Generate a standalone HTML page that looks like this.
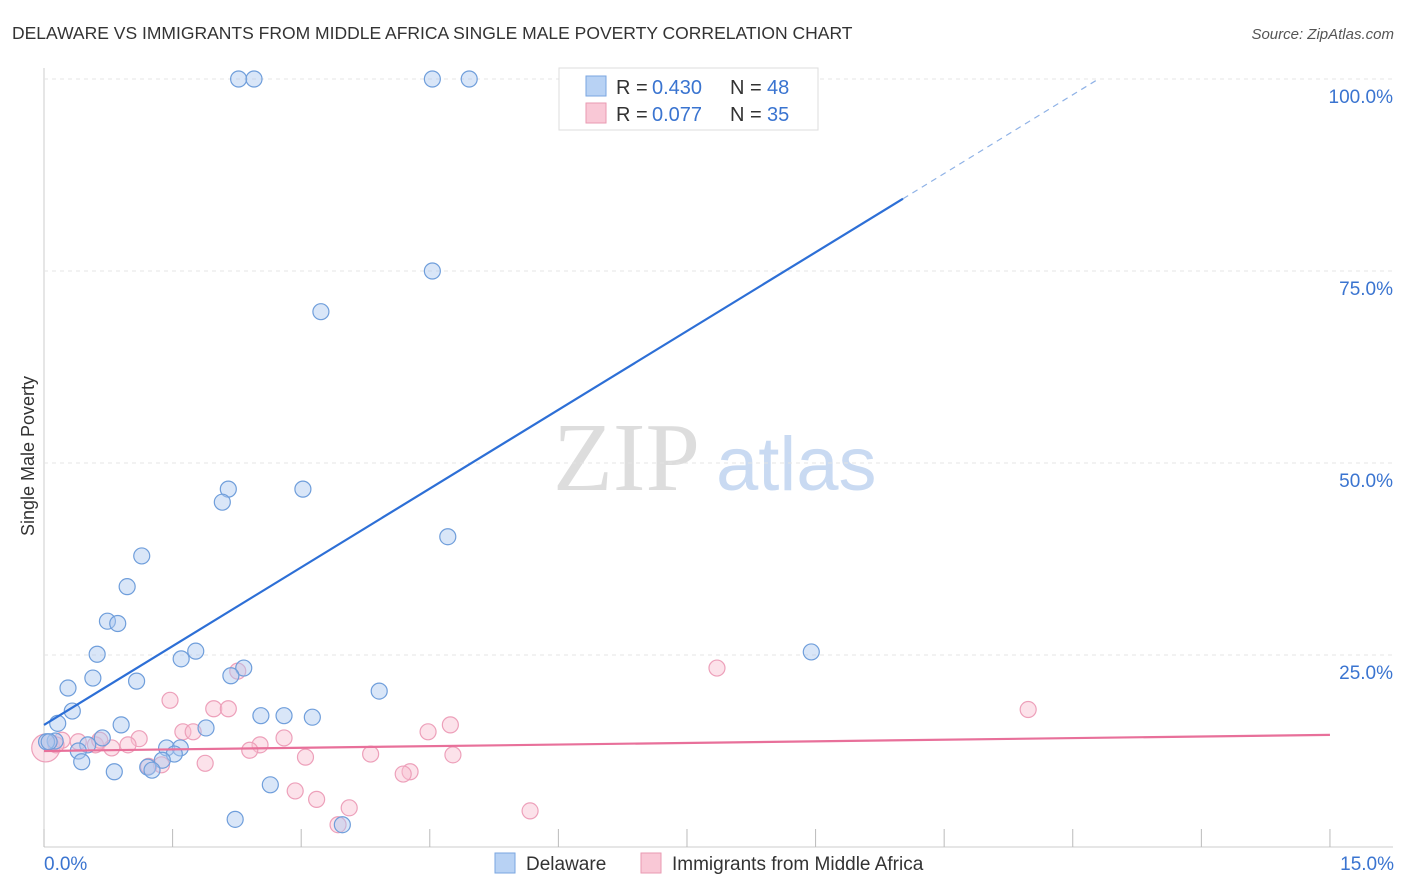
<!DOCTYPE html>
<html><head><meta charset="utf-8">
<style>
body{margin:0;background:#fff;font-family:"Liberation Sans",sans-serif;}
svg{display:block}
</style></head>
<body>
<svg id="chart" width="1406" height="892">
<text x="12" y="39" font-size="17.5" fill="#333">DELAWARE VS IMMIGRANTS FROM MIDDLE AFRICA SINGLE MALE POVERTY CORRELATION CHART</text>
<text x="1394" y="39" font-size="15" fill="#555" font-style="italic" text-anchor="end">Source: ZipAtlas.com</text>
<text x="34" y="456" font-size="18" fill="#333" text-anchor="middle" transform="rotate(-90 34 456)">Single Male Poverty</text>
<text x="553" y="490" font-size="98" fill="#ddd" font-family="Liberation Serif,serif">ZIP</text>
<text x="716" y="490" font-size="76" fill="#c9daf2">atlas</text>
<g id="grid"></g><g id="marks"></g>
<g>
<rect x="559" y="68" width="259" height="62" fill="#fff" stroke="#ddd"/>
<rect x="586" y="76" width="20" height="20" fill="#b8d2f4" stroke="#7aa6e0"/>
<text y="94" font-size="20" fill="#333"><tspan x="616">R = </tspan><tspan x="652" fill="#3a74d0">0.430</tspan><tspan x="730">N = </tspan><tspan x="767" fill="#3a74d0">48</tspan></text>
<rect x="586" y="103" width="20" height="20" fill="#f9c8d6" stroke="#e99ab2"/>
<text y="121" font-size="20" fill="#333"><tspan x="616">R = </tspan><tspan x="652" fill="#3a74d0">0.077</tspan><tspan x="730">N = </tspan><tspan x="767" fill="#3a74d0">35</tspan></text>
</g>
<g>
<rect x="495" y="853" width="20" height="20" fill="#b8d2f4" stroke="#7aa6e0"/>
<text x="526" y="870" font-size="19" fill="#333">Delaware</text>
<rect x="641" y="853" width="20" height="20" fill="#f9c8d6" stroke="#e99ab2"/>
<text x="672" y="870" font-size="19" fill="#333">Immigrants from Middle Africa</text>
</g>
<text x="44" y="870" font-size="19" fill="#3a74d0">0.0%</text>
<text x="1394" y="870" font-size="19" fill="#3a74d0" text-anchor="end">15.0%</text>
</svg>
<script>
const yTicks=[25,50,75,100];
const xTicks=[0,1.5,3,4.5,6,7.5,9,10.5,12,13.5,15];
const delX=[2.27,2.45,4.53,4.96,4.53,3.23,2.15,3.02,2.08,4.71,1.14,0.97,0.74,0.86,0.62,1.77,1.6,8.95,2.33,2.18,0.57,1.08,0.28,3.91,0.33,2.53,2.8,3.13,0.16,0.9,1.89,0.68,0.13,0.03,0.51,1.43,1.59,1.52,0.40,1.38,0.44,1.21,1.26,0.82,2.64,2.23,3.48,0.06];
const delY=[100,100,100,100,75,69.7,46.6,46.6,44.9,40.4,37.9,33.9,29.4,29.1,25.1,25.5,24.5,25.4,23.3,22.3,22.0,21.6,20.7,20.3,17.7,17.1,17.1,16.9,16.1,15.9,15.5,14.2,13.8,13.7,13.3,12.9,12.9,12.1,12.5,11.3,11.1,10.4,10.0,9.8,8.1,3.6,2.9,13.7];
const immX=[0.02,1.47,2.26,7.85,11.48,1.98,2.15,1.62,1.74,4.74,4.48,1.11,0.98,2.8,0.21,0.6,0.79,2.52,2.4,1.88,3.05,3.81,4.77,1.37,1.22,4.27,4.19,2.93,3.18,3.56,3.43,5.67,0.40,0.65,0.14];
const immY=[12.9,19.1,22.9,23.3,17.9,18.0,18.0,15.0,15.0,15.9,15.0,14.1,13.3,14.2,13.9,13.3,12.9,13.3,12.6,10.9,11.7,12.1,12.0,10.7,10.5,9.8,9.5,7.3,6.2,5.1,2.9,4.7,13.7,13.9,13.3];
const delTrend=[0,15.9,12.3,100];
const immTrend=[0,12.5,15,14.6];
const X=v=>44+v*85.73, Y=v=>847-v*7.68;
const ns="http://www.w3.org/2000/svg";
const grid=document.getElementById('grid'), marks=document.getElementById('marks');
function mk(tag,at,par){const e=document.createElementNS(ns,tag);for(const k in at)e.setAttribute(k,at[k]);par.appendChild(e);return e;}
let ax=mk('line',{x1:44,y1:68,x2:44,y2:847,stroke:'#ccc'},grid);


let bx=mk('line',{x1:44,y1:847,x2:1393,y2:847,stroke:'#ccc'},grid);


yTicks.forEach(t=>{
 let l=mk('line',{x1:44,y1:Y(t),x2:1393,y2:Y(t),stroke:'#e4e4e4','stroke-dasharray':'4,4'},grid);
 
 
 let tx=mk('text',{x:1393,y:Y(t)+24,'font-size':19,fill:'#3a74d0','text-anchor':'end'},grid);tx.textContent=t.toFixed(1)+'%';
 
 
});
xTicks.forEach(t=>{
 let l=mk('line',{x1:X(t),y1:829,x2:X(t),y2:847,stroke:'#bbb'},grid);
 
 
});
immX.forEach((v,i)=>{
 let c=mk('circle',{cx:X(v),cy:Y(immY[i]),r:i==0?14:8,fill:'rgba(249,190,208,0.45)',stroke:'#eda0ba','stroke-width':1.2},marks);
 
 
});
delX.forEach((v,i)=>{
 let c=mk('circle',{cx:X(v),cy:Y(delY[i]),r:8,fill:'rgba(170,200,240,0.45)',stroke:'#6f9edb','stroke-width':1.2},marks);
 
 
});
const slope=(delTrend[3]-delTrend[1])/(delTrend[2]-delTrend[0]);
const xEnd=10.02, xMax=(100-delTrend[1])/slope;
let t1=mk('line',{x1:X(0),y1:Y(delTrend[1]),x2:X(xEnd),y2:Y(delTrend[1]+slope*xEnd),stroke:'#2d6fd6','stroke-width':2.2},marks);


let t2=mk('line',{x1:X(xEnd),y1:Y(delTrend[1]+slope*xEnd),x2:X(xMax),y2:Y(100),stroke:'#8fb2e6','stroke-width':1.2,'stroke-dasharray':'6,5'},marks);


let t3=mk('line',{x1:X(immTrend[0]),y1:Y(immTrend[1]),x2:X(immTrend[2]),y2:Y(immTrend[3]),stroke:'#e8709a','stroke-width':2.2},marks);


</script>
</body></html>
